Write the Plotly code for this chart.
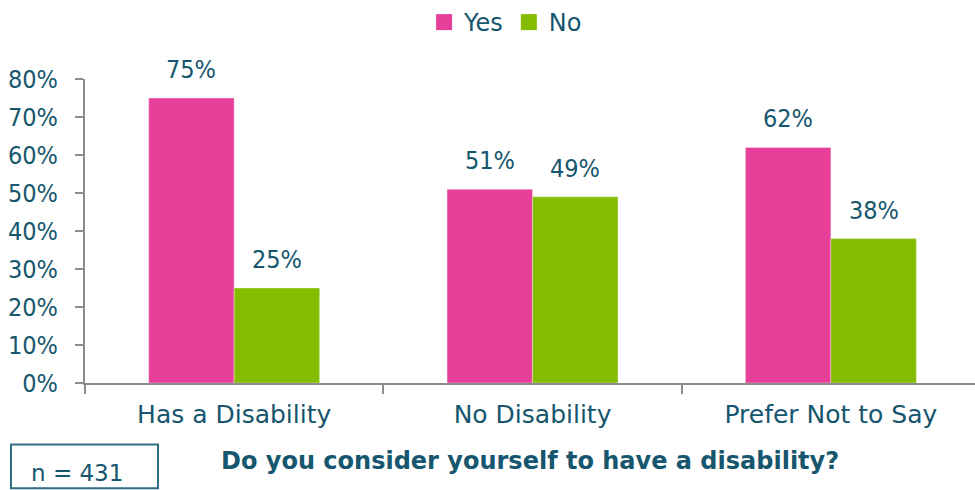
import plotly.graph_objects as go

categories = ["Has a Disability", "No Disability", "Prefer Not to Say"]
yes_values = [0.75, 0.51, 0.62]
no_values = [0.25, 0.49, 0.38]
series_names = ["Yes", "No"]
y_ticks = [0, 0.1, 0.2, 0.3, 0.4, 0.5, 0.6, 0.7, 0.8]
question = "Do you consider yourself to have a disability?"
sample_note = "n = 431"

PINK = "#E8409A"
GREEN = "#84BD00"
TEXT = "#16566E"
AXIS = "#8C8C8C"
FONT = "DejaVu Sans"
NUM_FONT = "DejaVu Sans Condensed"

W, H = 975, 490
ML, MR, MT, MB = 85, 0, 77, 107
BARGAP = 0.427
CAT_RANGE = [-0.5, 2.483]

fig = go.Figure()
series = [(series_names[0], yes_values, PINK), (series_names[1], no_values, GREEN)]
for name, vals, color in series:
    fig.add_trace(go.Bar(
        x=categories, y=vals, name=name, showlegend=False,
        marker=dict(color=color, line=dict(color="rgba(255,255,255,0.35)", width=1)),
    ))
    # legend swatch
    fig.add_trace(go.Scatter(
        x=[None], y=[None], mode="markers", name=name,
        marker=dict(symbol="square", size=16, color=color),
    ))

# value labels above each bar
plot_w = W - ML - MR
plot_h = H - MT - MB
px_per_cat = plot_w / (CAT_RANGE[1] - CAT_RANGE[0])
bar_w_px = px_per_cat * (1 - BARGAP) / 2
for k, (name, vals, color) in enumerate(series):
    shift = (k - 0.5) * bar_w_px
    for cat, v in zip(categories, vals):
        fig.add_annotation(
            x=cat, y=v, xref="x", yref="y", text=f"{round(v * 100)}%",
            showarrow=False, xanchor="center", yanchor="bottom",
            xshift=shift, yshift=12,
            font=dict(family=NUM_FONT, size=25, color=TEXT),
        )

fig.add_annotation(
    x=0.5, y=-0.255, xref="paper", yref="paper", text=f"<b>{question}</b>",
    showarrow=False, xanchor="center", yanchor="middle",
    font=dict(family=FONT, size=24, color=TEXT),
)

# sample-size box
fig.add_shape(
    type="rect", xref="paper", yref="paper",
    x0=(11 - ML) / plot_w, x1=(158 - ML) / plot_w,
    y0=-(489 - (H - MB)) / plot_h, y1=-(445 - (H - MB)) / plot_h,
    line=dict(color="#2F6E84", width=2), fillcolor="rgba(0,0,0,0)",
)
fig.add_annotation(
    x=(77 - ML) / plot_w, y=-(474 - (H - MB)) / plot_h,
    xref="paper", yref="paper", text=sample_note, showarrow=False,
    xanchor="center", yanchor="middle",
    font=dict(family=FONT, size=23, color=TEXT),
)

fig.update_layout(
    width=W, height=H,
    margin=dict(l=ML, r=MR, t=MT, b=MB, pad=0),
    paper_bgcolor="white", plot_bgcolor="white",
    barmode="group", bargap=BARGAP, bargroupgap=0,
    font=dict(family=FONT, color=TEXT),
    legend=dict(
        orientation="h", x=0.381, xanchor="left", y=1.186, yanchor="middle",
        font=dict(family=FONT, size=24, color=TEXT),
        itemwidth=30, bgcolor="rgba(0,0,0,0)",
    ),
    xaxis=dict(
        type="category", range=CAT_RANGE,
        showline=True, linecolor=AXIS, linewidth=2,
        ticks="outside", tickson="boundaries", ticklen=9, tickcolor=AXIS, tickwidth=2,
        tickfont=dict(family=FONT, size=25, color=TEXT),
        ticklabelstandoff=8,
        showgrid=False, zeroline=False,
    ),
    yaxis=dict(
        range=[0, 0.8], tickvals=y_ticks, tickformat=".0%",
        showline=True, linecolor=AXIS, linewidth=2,
        ticks="outside", ticklen=8, tickcolor=AXIS, tickwidth=2,
        tickfont=dict(family=NUM_FONT, size=25, color=TEXT),
        ticklabelstandoff=12,
        showgrid=False, zeroline=False,
    ),
)

fig.write_html("out.html")
